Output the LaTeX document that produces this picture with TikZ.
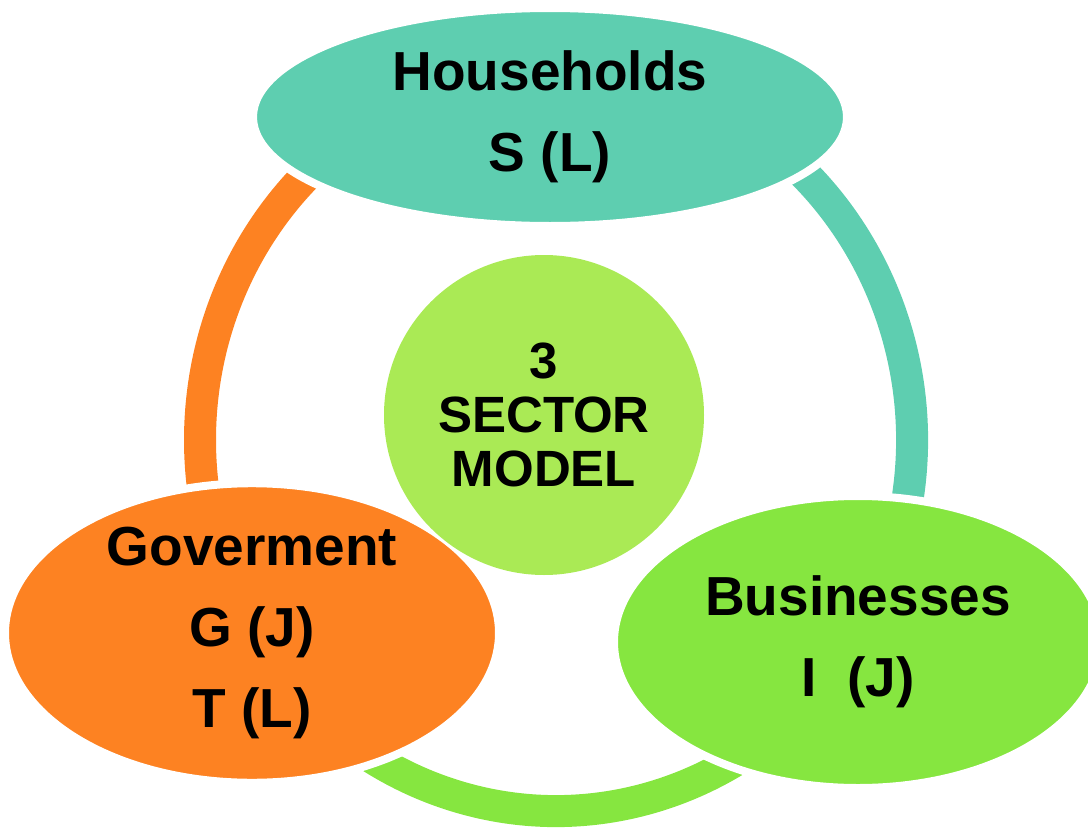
\documentclass[tikz,border=0pt]{standalone}
\usepackage{fontspec}
\setmainfont{Liberation Sans}
\usetikzlibrary{shapes.geometric}
\definecolor{housecol}{RGB}{94,206,176}
\definecolor{govcol}{RGB}{253,130,34}
\definecolor{buscol}{RGB}{134,230,64}
\definecolor{corecol}{RGB}{170,234,85}
\begin{document}
\begin{tikzpicture}[x=1pt, y=-1pt,
        sector/.style={ellipse, inner sep=0pt, align=center, draw=white, line width=8pt,
            font=\bfseries\fontsize{55}{81}\selectfont},
        ringpart/.style={line width=32pt}]
    \useasboundingbox (0,0) rectangle (1088,830);
    \draw[ringpart, govcol]
        (556,440) ++(150:356 and 371) arc[start angle=150, end angle=250, x radius=356, y radius=371];
    \draw[ringpart, housecol]
        (556,440) ++(290:356 and 371) arc[start angle=290, end angle=380, x radius=356, y radius=371];
    \draw[ringpart, buscol]
        (556,440) ++(20:356 and 371) arc[start angle=20, end angle=160, x radius=356, y radius=371];
    \node[sector, fill=housecol, minimum width=594, minimum height=218]
        (house) at (550,117) {Households\\S (L)};
    \node[sector, fill=govcol, minimum width=494, minimum height=291]
        (gov) at (252,633) {Goverment\\G (J)\\T (L)};
    \node[sector, fill=buscol, minimum width=488, minimum height=292]
        (bus) at (858,642) {Businesses\\I\ \ (J)};
    \node[circle, fill=corecol, minimum size=320, inner sep=0pt,
        align=center, font=\bfseries\fontsize{51}{54}\selectfont]
        (core) at (544,415) {3\\SECTOR\\MODEL};
\end{tikzpicture}
\end{document}
